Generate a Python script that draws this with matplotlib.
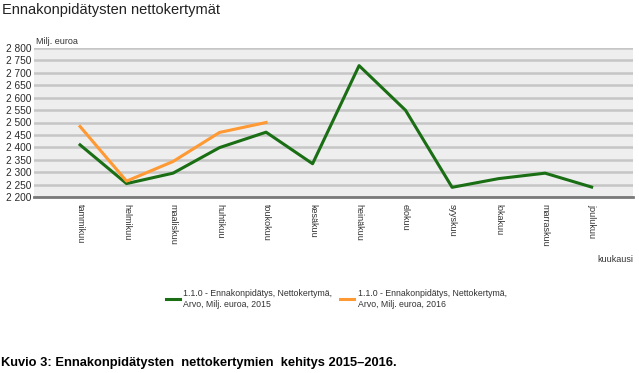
import matplotlib
matplotlib.use("Agg")
import matplotlib.pyplot as plt
from matplotlib.lines import Line2D

# Data
months = ["tammikuu", "helmikuu", "maaliskuu", "huhtikuu", "toukokuu", "kesäkuu",
          "heinäkuu", "elokuu", "syyskuu", "lokakuu", "marraskuu", "joulukuu"]
values_2015 = [2410, 2254, 2296, 2399, 2461, 2334, 2729, 2549, 2239, 2274, 2296, 2240]
values_2016 = [2484, 2264, 2343, 2460, 2500]
series_labels = ["1.1.0 - Ennakonpidätys, Nettokertymä,\nArvo, Milj. euroa, 2015",
                 "1.1.0 - Ennakonpidätys, Nettokertymä,\nArvo, Milj. euroa, 2016"]
y_ticks = list(range(2200, 2801, 50))

plt.rcParams['font.family'] = ['Liberation Sans', 'DejaVu Sans']

W, H = 639, 373
fig = plt.figure(figsize=(W / 100, H / 100), dpi=100)
fig.patch.set_facecolor('white')

# axes in pixel coords
left, right, top, bottom = 34, 633, 48, 197
ax = fig.add_axes([left / W, 1 - bottom / H, (right - left) / W, (bottom - top) / H])
ax.set_facecolor('#eeeeee')

green = '#1a6e14'
orange = '#ff9933'
x = list(range(len(months)))
ax.plot(x, values_2015, color=green, lw=2.2, zorder=3)
ax.plot(x[:len(values_2016)], values_2016, color=orange, lw=2.2, zorder=3)

ax.set_xlim(-0.99, 11.89)
ax.set_ylim(2200, 2800)
ax.set_yticks(y_ticks)
ax.set_yticklabels([f"{v // 1000} {v % 1000:03d}" for v in y_ticks],
                   fontsize=7.3, color='#2a2a2a')
ax.set_xticks(x)
ax.set_xticklabels(months, rotation=270, fontsize=6.5, color='#333333', va='top')
ax.tick_params(axis='both', length=0, pad=2)
ax.tick_params(axis='x', pad=5)

ax.grid(axis='y', color='#c6c6c6', lw=1.8)
ax.set_axisbelow(True)
for s in ['top', 'right', 'left']:
    ax.spines[s].set_visible(False)
ax.spines['bottom'].set_color('#7a7a7a')
ax.spines['bottom'].set_linewidth(2)

# texts
fig.text(2 / W, 1 - 10 / H, "Ennakonpidätysten nettokertymät", fontsize=10.5,
         color='#222222', va='center', ha='left')
fig.text(36 / W, 1 - 42 / H, "Milj. euroa", fontsize=6.5, color='#333333',
         va='center', ha='left')
fig.text(633 / W, 1 - 260 / H, "kuukausi", fontsize=6.5, color='#333333',
         va='center', ha='right')

# legend
handles = [Line2D([0], [0], color=green, lw=2.2), Line2D([0], [0], color=orange, lw=2.2)]
leg = fig.legend(handles, series_labels, loc='center left',
                 bbox_to_anchor=(158 / W, 1 - 299 / H), ncol=2, frameon=False,
                 fontsize=6.3, handlelength=1.6, handletextpad=0.4,
                 columnspacing=0.9, labelcolor='#333333')

fig.text(1 / W, 1 - 363 / H, "Kuvio 3: Ennakonpidätysten  nettokertymien  kehitys 2015\u20132016.",
         fontsize=9.3, fontweight='bold', va='center', ha='left',
         family=['Liberation Sans Narrow', 'Liberation Sans', 'DejaVu Sans'])

fig.savefig("out.png", dpi=100)
